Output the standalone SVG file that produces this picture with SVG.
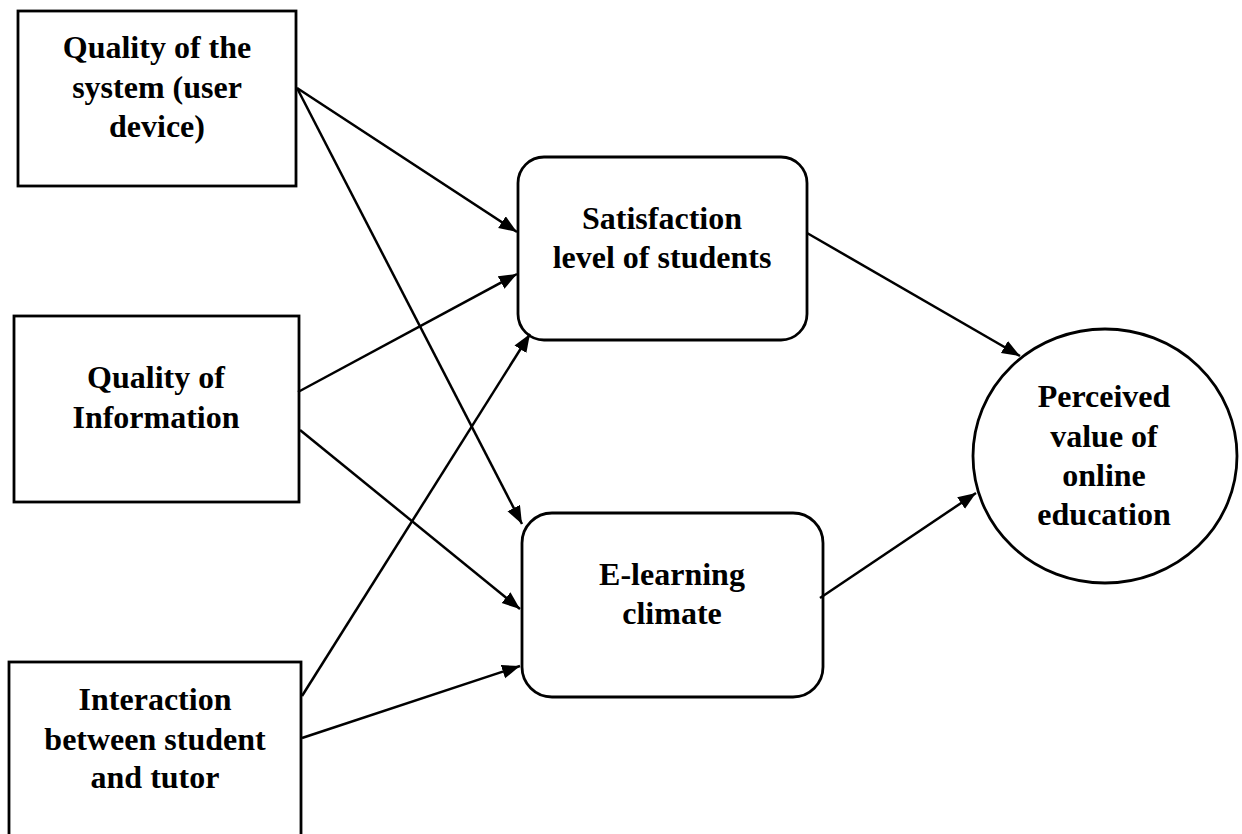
<svg xmlns="http://www.w3.org/2000/svg" width="1242" height="834" viewBox="0 0 1242 834">
<style>
.box{fill:#fff;stroke:#000;stroke-width:2.8}
.lbl{font-family:"Liberation Serif","Times New Roman",serif;font-weight:bold;font-size:32px;fill:#000;text-anchor:middle}
.conn line{stroke:#000;stroke-width:2.5;marker-end:url(#ah)}
</style>
<defs>
<marker id="ah" markerUnits="userSpaceOnUse" markerWidth="20" markerHeight="16" refX="18" refY="7" orient="auto">
<path d="M0,0 L18,7 L0,14 z" fill="#000"/>
</marker>
</defs>
<rect width="1242" height="834" fill="#fff"/>
<g id="n-system">
<rect class="box" x="18" y="11" width="278" height="175"/>
<text class="lbl" x="157" y="58">Quality of the</text>
<text class="lbl" x="157" y="98">system (user</text>
<text class="lbl" x="157" y="137">device)</text>
</g>
<g id="n-information">
<rect class="box" x="14" y="316" width="285" height="186"/>
<text class="lbl" x="156" y="388">Quality of</text>
<text class="lbl" x="156" y="428">Information</text>
</g>
<g id="n-interaction">
<rect class="box" x="9" y="662" width="292" height="190"/>
<text class="lbl" x="155" y="710">Interaction</text>
<text class="lbl" x="155" y="750">between student</text>
<text class="lbl" x="155" y="788">and tutor</text>
</g>
<g id="n-satisfaction">
<rect class="box" x="518" y="157" width="289" height="183" rx="26" ry="26"/>
<text class="lbl" x="662" y="229">Satisfaction</text>
<text class="lbl" x="662" y="268">level of students</text>
</g>
<g id="n-elearning">
<rect class="box" x="522" y="513" width="301" height="184" rx="30" ry="30"/>
<text class="lbl" x="672" y="585">E-learning</text>
<text class="lbl" x="672" y="624">climate</text>
</g>
<g id="n-perceived">
<ellipse class="box" cx="1105" cy="456" rx="132" ry="127"/>
<text class="lbl" x="1104" y="407">Perceived</text>
<text class="lbl" x="1104" y="447">value of</text>
<text class="lbl" x="1104" y="486">online</text>
<text class="lbl" x="1104" y="525">education</text>
</g>
<g id="connectors" class="conn">
<line x1="297" y1="88" x2="517" y2="232"/>
<line x1="297" y1="88" x2="522" y2="524"/>
<line x1="298" y1="392" x2="517" y2="274"/>
<line x1="300" y1="430" x2="520" y2="609"/>
<line x1="302" y1="696" x2="530" y2="334"/>
<line x1="302" y1="738" x2="520" y2="666"/>
<line x1="807" y1="233" x2="1020" y2="356"/>
<line x1="820" y1="598" x2="976" y2="493"/>
</g>
</svg>
